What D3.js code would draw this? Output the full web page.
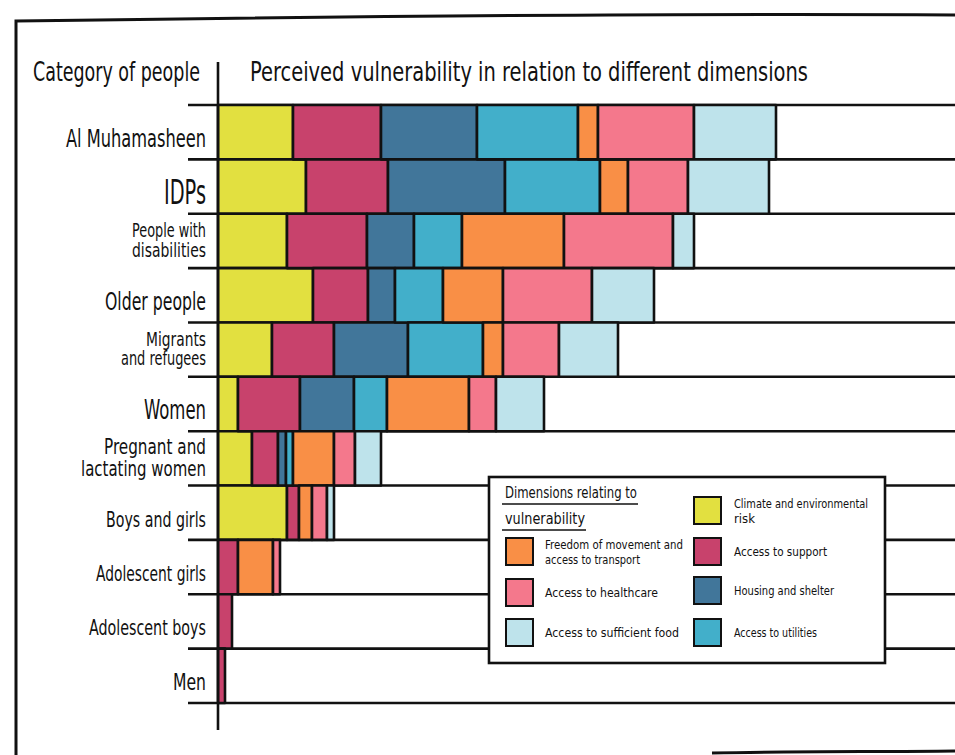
<!DOCTYPE html>
<html>
<head>
<meta charset="utf-8">
<script src="https://cdn.jsdelivr.net/npm/d3@7"></script>
<style>
	body {
		margin: 0;
		background: #ffffff;
	}

	svg {
		display: block;
	}

	text {
		font-family: "DejaVu Sans Condensed", "Liberation Sans Narrow", sans-serif;
		fill: #111111;
	}
</style>
</head>
<body>
<svg id="chart" width="955" height="755"></svg>
<script>
// Category of people (top to bottom), with the line breaks used in the labels
const categories = [
	"Al Muhamasheen",
	"IDPs",
	"People with disabilities",
	"Older people",
	"Migrants and refugees",
	"Women",
	"Pregnant and lactating women",
	"Boys and girls",
	"Adolescent girls",
	"Adolescent boys",
	"Men",
];
const categoryLines = [
	["Al Muhamasheen"],
	["IDPs"],
	["People with", "disabilities"],
	["Older people"],
	["Migrants", "and refugees"],
	["Women"],
	["Pregnant and", "lactating women"],
	["Boys and girls"],
	["Adolescent girls"],
	["Adolescent boys"],
	["Men"],
];

// Perceived vulnerability, one array per dimension (stacked left to right)
const climate = [75, 88, 69, 95, 54, 20, 34, 69, 0, 0, 0];
const support = [88, 82, 80, 55, 62, 62, 26, 12, 20, 14, 7];
const housing = [96, 117, 47, 27, 74, 54, 8, 0, 0, 0, 0];
const utilities = [101, 95, 48, 48, 75, 33, 7, 0, 0, 0, 0];
const movement = [20, 28, 102, 60, 20, 82, 41, 13, 35, 0, 0];
const healthcare = [96, 60, 109, 89, 56, 27, 21, 15, 7, 0, 0];
const food = [82, 81, 21, 62, 59, 48, 26, 7, 0, 0, 0];

const dimensions = [
	{key: "climate", values: climate, label: ["Climate and environmental", "risk"], color: "#e2e040"},
	{key: "support", values: support, label: ["Access to support"], color: "#c8426c"},
	{key: "housing", values: housing, label: ["Housing and shelter"], color: "#41769a"},
	{key: "utilities", values: utilities, label: ["Access to utilities"], color: "#42afca"},
	{key: "movement", values: movement, label: ["Freedom of movement and", "access to transport"], color: "#f98f46"},
	{key: "healthcare", values: healthcare, label: ["Access to healthcare"], color: "#f4788c"},
	{key: "food", values: food, label: ["Access to sufficient food"], color: "#bee3eb"},
];

const legendTitle = ["Dimensions relating to", "vulnerability"];
const legendLeft = ["movement", "healthcare", "food"];
const legendRight = ["climate", "support", "housing", "utilities"];

const svg = d3.select("#chart");
const ink = "#111111";
const stroke = 2.6;

const rows = categories.map((name, i) => {
	const row = {name};
	dimensions.forEach((d) => (row[d.key] = d.values[i]));
	return row;
});

const x = d3.scaleLinear().domain([0, 737]).range([218, 955]);
const y = d3.scaleBand().domain(categories).range([105, 703]).paddingInner(0);

// Outer frame
svg
	.append("path")
	.attr("d", "M16,755 L16,21 C300,17 650,13 955,15")
	.attr("fill", "none")
	.attr("stroke", ink)
	.attr("stroke-width", 3);
svg
	.append("path")
	.attr("d", "M712,753 C800,751 880,752 955,751")
	.attr("fill", "none")
	.attr("stroke", ink)
	.attr("stroke-width", 3);

// Titles
svg
	.append("text")
	.attr("x", 33)
	.attr("y", 81)
	.attr("font-size", 27)
	.attr("textLength", 167)
	.attr("lengthAdjust", "spacingAndGlyphs")
	.text("Category of people");
svg
	.append("text")
	.attr("x", 250)
	.attr("y", 81)
	.attr("font-size", 27)
	.attr("textLength", 558)
	.attr("lengthAdjust", "spacingAndGlyphs")
	.text("Perceived vulnerability in relation to different dimensions");

// Row separators
const edges = categories.map((c) => y(c)).concat([y.range()[1]]);
svg
	.append("g")
	.selectAll("line")
	.data(edges)
	.join("line")
	.attr("x1", 188)
	.attr("x2", 955)
	.attr("y1", (d) => d)
	.attr("y2", (d) => d)
	.attr("stroke", ink)
	.attr("stroke-width", stroke);

// Stacked bars
const series = d3.stack().keys(dimensions.map((d) => d.key))(rows);
const colorOf = d3
	.scaleOrdinal()
	.domain(dimensions.map((d) => d.key))
	.range(dimensions.map((d) => d.color));

svg
	.append("g")
	.attr("stroke", ink)
	.attr("stroke-width", stroke)
	.attr("stroke-linejoin", "round")
	.selectAll("g")
	.data(series)
	.join("g")
	.attr("fill", (s) => colorOf(s.key))
	.selectAll("rect")
	.data((s) => s.filter((d) => d[1] - d[0] > 0))
	.join("rect")
	.attr("x", (d) => x(d[0]))
	.attr("width", (d) => x(d[1]) - x(d[0]))
	.attr("y", (d) => y(d.data.name))
	.attr("height", y.bandwidth());

// Vertical axis
svg
	.append("line")
	.attr("x1", 218)
	.attr("x2", 218)
	.attr("y1", 62)
	.attr("y2", 730)
	.attr("stroke", ink)
	.attr("stroke-width", stroke);

// Category labels
const labelStyle = {
	"Al Muhamasheen": {size: 25, widths: [140]},
	"IDPs": {size: 33, widths: [42]},
	"People with disabilities": {size: 19, widths: [74, 74]},
	"Older people": {size: 25, widths: [101]},
	"Migrants and refugees": {size: 19, widths: [60, 85]},
	"Women": {size: 26, widths: [62]},
	"Pregnant and lactating women": {size: 21, widths: [102, 125]},
	"Boys and girls": {size: 22, widths: [100]},
	"Adolescent girls": {size: 22, widths: [110]},
	"Adolescent boys": {size: 22, widths: [117]},
	"Men": {size: 23, widths: [33]},
};

const labels = svg
	.append("g")
	.attr("text-anchor", "end")
	.selectAll("text")
	.data(categories)
	.join("text")
	.attr("font-size", (c) => labelStyle[c].size)
	.attr("y", (c, i) => {
		const n = categoryLines[i].length;
		const size = labelStyle[c].size;
		const nudge = n > 1 ? -1 : 6;
		return y(c) + y.bandwidth() / 2 + size * 0.36 + nudge - ((n - 1) * size * 1.05) / 2;
	});

labels.each(function (c, i) {
	const size = labelStyle[c].size;
	d3.select(this)
		.selectAll("tspan")
		.data(categoryLines[i])
		.join("tspan")
		.attr("x", 206)
		.attr("dy", (d, j) => (j === 0 ? 0 : size * 1.05))
		.attr("textLength", (d, j) => labelStyle[c].widths[j])
		.attr("lengthAdjust", "spacingAndGlyphs")
		.text((d) => d);
});

// Legend
const legend = svg.append("g");
legend
	.append("rect")
	.attr("x", 489)
	.attr("y", 477)
	.attr("width", 396)
	.attr("height", 186)
	.attr("fill", "#ffffff")
	.attr("stroke", ink)
	.attr("stroke-width", stroke);

const titleWidths = [132, 80];
legendTitle.forEach((t, i) => {
	legend
		.append("text")
		.attr("x", 505)
		.attr("y", 498 + i * 26)
		.attr("font-size", 15)
		.attr("textLength", titleWidths[i])
		.attr("lengthAdjust", "spacingAndGlyphs")
		.text(t);
	legend
		.append("line")
		.attr("x1", 502)
		.attr("x2", 506 + titleWidths[i])
		.attr("y1", 504 + i * 26)
		.attr("y2", 504 + i * 26)
		.attr("stroke", ink)
		.attr("stroke-width", 1.5);
});

const legendText = {
	"Climate and environmental": 134,
	"risk": 21,
	"Access to support": 93,
	"Housing and shelter": 100,
	"Access to utilities": 83,
	"Freedom of movement and": 138,
	"access to transport": 95,
	"Access to healthcare": 113,
	"Access to sufficient food": 134,
};

function legendItem(key, sx, sy, tx) {
	const dim = dimensions.find((d) => d.key === key);
	legend
		.append("rect")
		.attr("x", sx)
		.attr("y", sy)
		.attr("width", 27)
		.attr("height", 27)
		.attr("fill", dim.color)
		.attr("stroke", ink)
		.attr("stroke-width", 2);
	const n = dim.label.length;
	dim.label.forEach((t, i) => {
		legend
			.append("text")
			.attr("x", tx)
			.attr("y", sy + 18 - (n - 1) * 7.5 + i * 15)
			.attr("font-size", 12.5)
			.attr("textLength", legendText[t])
			.attr("lengthAdjust", "spacingAndGlyphs")
			.text(t);
	});
}

const leftY = [538, 579, 619];
const rightY = [497, 538, 577, 619];
legendLeft.forEach((k, i) => legendItem(k, 506, leftY[i], 545));
legendRight.forEach((k, i) => legendItem(k, 694, rightY[i], 734));
</script>
</body>
</html>
